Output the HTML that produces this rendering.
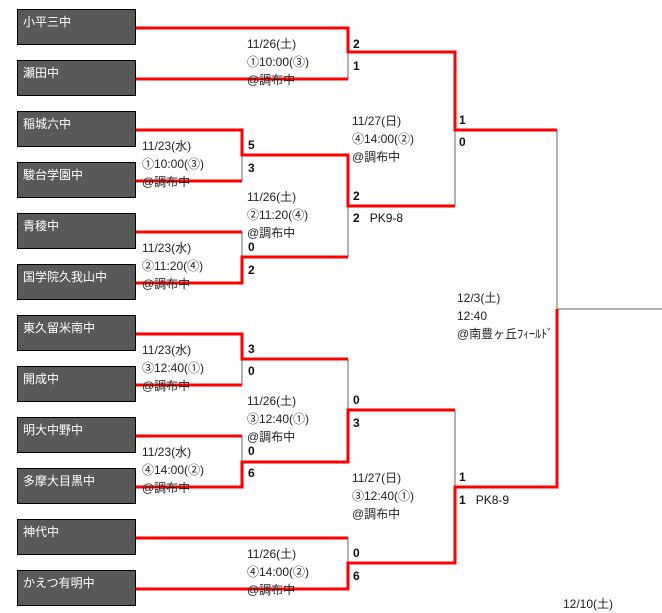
<!DOCTYPE html>
<html><head><meta charset="utf-8"><style>
body{margin:0;width:662px;height:610px;background:#fff;position:relative;overflow:hidden;font-family:"Liberation Sans","Noto Sans CJK JP",sans-serif;}
.b{position:absolute;left:17px;width:117px;height:34px;background:#595959;border:1px solid #000;color:#fff;font-size:12px;box-sizing:content-box;}
.b span{position:absolute;left:5px;top:3px;}
.t{position:absolute;font-size:12px;color:#222;line-height:18px;white-space:pre;}
.s{position:absolute;font-size:12px;font-weight:bold;color:#111;line-height:14px;white-space:pre;}
.s i{font-style:normal;font-weight:normal;}
svg{position:absolute;left:0;top:0;}
</style></head><body>
<svg width="662" height="610" fill="none">
<g stroke="#b3b3b3" stroke-width="2">
<path d="M348 52V79M242 155V181M242 232V257M348 206V257M455 130V206M242 359V385M242 436V462M348 359V410M348 538V563M455 410V487M557 130V309H662"/>
</g>
<g stroke="#f00" stroke-width="3">
<path d="M136 28H348V52H455V130H557"/>
<path d="M136 79H348"/>
<path d="M136 130H242V155H348V206H455"/>
<path d="M136 181H242"/>
<path d="M136 232H242"/>
<path d="M136 283H242V257H348"/>
<path d="M136 334H242V359H348"/>
<path d="M136 385H242"/>
<path d="M136 436H242"/>
<path d="M136 487H242V462H348V410H455"/>
<path d="M136 538H348"/>
<path d="M136 589H348V563H455V487H557V309"/>
</g>
</svg>
<div class="b" style="top:9px"><span>小平三中</span></div>
<div class="b" style="top:60px"><span>瀬田中</span></div>
<div class="b" style="top:111px"><span>稲城六中</span></div>
<div class="b" style="top:162px"><span>駿台学園中</span></div>
<div class="b" style="top:213px"><span>青稜中</span></div>
<div class="b" style="top:264px"><span>国学院久我山中</span></div>
<div class="b" style="top:315px"><span>東久留米南中</span></div>
<div class="b" style="top:366px"><span>開成中</span></div>
<div class="b" style="top:417px"><span>明大中野中</span></div>
<div class="b" style="top:468px"><span>多摩大目黒中</span></div>
<div class="b" style="top:519px"><span>神代中</span></div>
<div class="b" style="top:570px"><span>かえつ有明中</span></div>

<div class="t" style="left:247px;top:35px">11/26(土)
①10:00(③)
@調布中</div>
<div class="t" style="left:142px;top:137px">11/23(水)
①10:00(③)
@調布中</div>
<div class="t" style="left:142px;top:239px">11/23(水)
②11:20(④)
@調布中</div>
<div class="t" style="left:247px;top:188px">11/26(土)
②11:20(④)
@調布中</div>
<div class="t" style="left:352px;top:112px">11/27(日)
④14:00(②)
@調布中</div>
<div class="t" style="left:457px;top:289px">12/3(土)
12:40
@南豊ヶ丘ﾌｨｰﾙﾄﾞ</div>
<div class="t" style="left:142px;top:341px">11/23(水)
③12:40(①)
@調布中</div>
<div class="t" style="left:142px;top:443px">11/23(水)
④14:00(②)
@調布中</div>
<div class="t" style="left:247px;top:392px">11/26(土)
③12:40(①)
@調布中</div>
<div class="t" style="left:247px;top:545px">11/26(土)
④14:00(②)
@調布中</div>
<div class="t" style="left:352px;top:469px">11/27(日)
③12:40(①)
@調布中</div>
<div class="t" style="left:563px;top:595px">12/10(土)</div>

<div class="s" style="left:353px;top:37px">2</div>
<div class="s" style="left:353px;top:59px">1</div>
<div class="s" style="left:248px;top:138px">5</div>
<div class="s" style="left:248px;top:161px">3</div>
<div class="s" style="left:248px;top:240px">0</div>
<div class="s" style="left:248px;top:263px">2</div>
<div class="s" style="left:353px;top:189px">2</div>
<div class="s" style="left:353px;top:211px">2   <i>PK9-8</i></div>
<div class="s" style="left:459px;top:113px">1</div>
<div class="s" style="left:459px;top:135px">0</div>
<div class="s" style="left:248px;top:342px">3</div>
<div class="s" style="left:248px;top:364px">0</div>
<div class="s" style="left:248px;top:444px">0</div>
<div class="s" style="left:248px;top:466px">6</div>
<div class="s" style="left:353px;top:393px">0</div>
<div class="s" style="left:353px;top:416px">3</div>
<div class="s" style="left:353px;top:546px">0</div>
<div class="s" style="left:353px;top:569px">6</div>
<div class="s" style="left:459px;top:470px">1</div>
<div class="s" style="left:459px;top:493px">1   <i>PK8-9</i></div>
</body></html>
